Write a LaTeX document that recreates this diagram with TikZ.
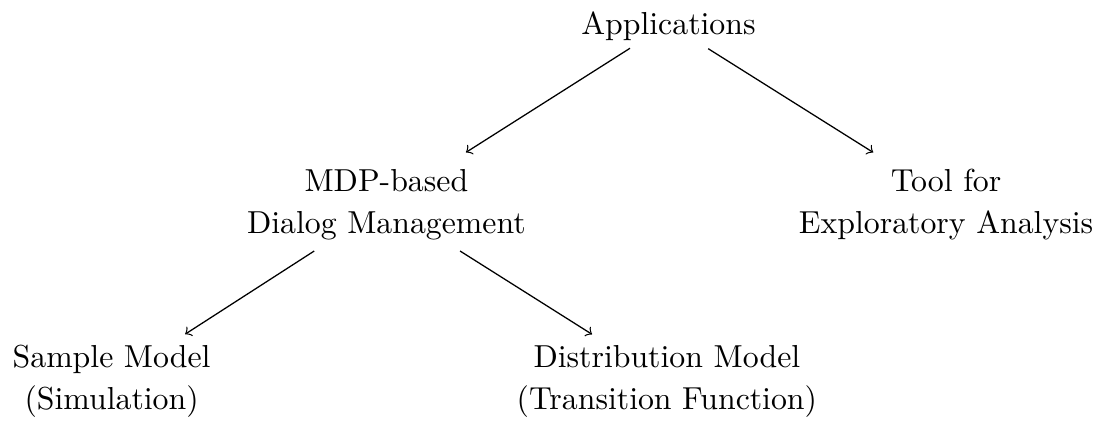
\documentclass[tikz,border=0pt]{standalone}
\begin{document}
\begin{tikzpicture}[x=1pt,y=-1pt,
  item/.style={align=center,font=\fontsize{10pt}{13.2pt}\selectfont},
  link/.style={->}]
  \useasboundingbox (0,0) rectangle (345.9,133);
  % the tree of nodes
  \node[item] (app)  at (210.2,8.3)  {Applications};
  \node[item] (mdp)  at (121.5,64.3) {MDP-based\\Dialog Management};
  \node[item] (tool) at (297.5,64.4) {Tool for\\Exploratory Analysis};
  \node[item] (smp)  at (35.1,120.0) {Sample Model\\(Simulation)};
  \node[item] (dst)  at (209.7,120.0) {Distribution Model\\(Transition Function)};
  % edges from the root, leaving just under its text
  \draw[link] ([shift={(-12.1,-1.2)}]app.south) -- ([shift={(25.0,-1.73)}]mdp.north);
  \draw[link] ([shift={(12.5,-1.07)}]app.south) -- ([shift={(-22.9,-1.77)}]tool.north);
  % edges to the two models
  \draw[link] (mdp) -- (smp);
  \draw[link] (mdp) -- (dst);
\end{tikzpicture}
\end{document}
